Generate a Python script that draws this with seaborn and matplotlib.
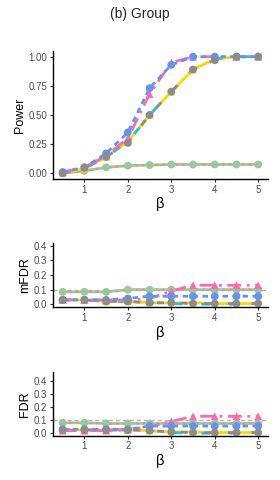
import numpy as np
import pandas as pd
import matplotlib
matplotlib.use("Agg")
import matplotlib.pyplot as plt
import seaborn as sns

# --- data ---
beta = [0.5, 1.0, 1.5, 2.0, 2.5, 3.0, 3.5, 4.0, 4.5, 5.0]

power = {
    "pink":   [0.01, 0.05, 0.15, 0.30, 0.68, 0.95, 1.00, 1.00, 1.00, 1.00],
    "blue":   [0.01, 0.05, 0.17, 0.35, 0.73, 0.93, 1.00, 1.00, 1.00, 1.00],
    "gold":   [0.00, 0.04, 0.14, 0.27, 0.50, 0.70, 0.89, 0.98, 1.00, 1.00],
    "cyan":   [0.00, 0.04, 0.14, 0.27, 0.50, 0.70, 0.89, 0.98, 1.00, 1.00],
    "gray":   [0.00, 0.05, 0.14, 0.26, 0.50, 0.70, 0.89, 0.97, 1.00, 1.00],
    "salmon": [0.00, 0.02, 0.05, 0.065, 0.07, 0.075, 0.075, 0.075, 0.075, 0.075],
    "green":  [0.00, 0.02, 0.05, 0.065, 0.07, 0.075, 0.075, 0.075, 0.075, 0.075],
}
mfdr = {
    "pink":   [0.03, 0.03, 0.03, 0.03, 0.04, 0.09, 0.13, 0.13, 0.13, 0.13],
    "blue":   [0.03, 0.03, 0.03, 0.04, 0.055, 0.055, 0.055, 0.055, 0.055, 0.055],
    "gold":   [0.03, 0.03, 0.02, 0.02, 0.01, 0.01, 0.01, 0.005, 0.005, 0.005],
    "cyan":   [0.03, 0.03, 0.02, 0.02, 0.01, 0.005, 0.0, 0.0, 0.0, 0.0],
    "gray":   [0.03, 0.03, 0.02, 0.02, 0.01, 0.01, 0.005, 0.005, 0.005, 0.005],
    "salmon": [0.085, 0.085, 0.085, 0.10, 0.10, 0.10, 0.10, 0.10, 0.10, 0.10],
    "green":  [0.085, 0.085, 0.085, 0.10, 0.10, 0.10, 0.10, 0.10, 0.10, 0.10],
}
fdr = {
    "pink":   [0.02, 0.02, 0.02, 0.03, 0.05, 0.09, 0.13, 0.13, 0.13, 0.13],
    "blue":   [0.03, 0.03, 0.03, 0.03, 0.055, 0.055, 0.055, 0.055, 0.055, 0.055],
    "gold":   [0.025, 0.025, 0.025, 0.025, 0.02, 0.01, 0.01, 0.005, 0.005, 0.005],
    "cyan":   [0.025, 0.025, 0.025, 0.025, 0.02, 0.005, 0.0, 0.0, 0.0, 0.0],
    "gray":   [0.025, 0.025, 0.025, 0.025, 0.02, 0.01, 0.005, 0.005, 0.005, 0.005],
    "salmon": [0.08, 0.08, 0.075, 0.075, 0.075, 0.075, 0.075, 0.075, 0.075, 0.075],
    "green":  [0.08, 0.08, 0.075, 0.075, 0.075, 0.075, 0.075, 0.075, 0.075, 0.075],
}

# --- styles ---
colors = {"pink": "#FF69B4", "blue": "#6495ED", "gold": "#FFD700", "cyan": "#1EC4F0",
          "gray": "#8C8C8C", "salmon": "#F4898C", "green": "#99C99A"}
dashes = {"pink": (5, 2, 1, 2), "blue": (2, 1.6), "gold": None, "cyan": (3, 7),
          "gray": (2.5, 6), "salmon": (1, 2), "green": None}
markers = {"pink": "^", "blue": "o", "gold": "^", "cyan": None, "gray": "o",
           "salmon": None, "green": "o"}
line_order = ["green", "salmon", "gold", "cyan", "gray", "pink", "blue"]
point_order = ["green", "gold", "pink", "blue", "gray"]

sns.set_theme(style="ticks")
plt.rcParams["font.family"] = ["Liberation Sans", "DejaVu Sans"]


def draw_panel(ax, data, ylabel, yticks, ylim, hline=False):
    if hline:
        ax.axhline(0.1, color="#B5B5B5", lw=1, ls=(0, (3, 2)), zorder=1)
    for key in line_order:
        lw = 2.0 if key != "salmon" else 1.6
        ls = "-" if dashes[key] is None else (0, dashes[key])
        sns.lineplot(x=beta, y=data[key], color=colors[key], lw=lw, linestyle=ls,
                     ax=ax, zorder=2)
    for key in point_order:
        sns.scatterplot(x=beta, y=data[key], color=colors[key], marker=markers[key],
                        s=32, edgecolor="none", ax=ax, zorder=3)
    ax.set_xlim(0.275, 5.225)
    ax.set_ylim(*ylim)
    ax.set_xticks([1, 2, 3, 4, 5])
    ax.set_yticks(yticks)
    ax.set_xlabel("β", fontsize=10.5, color="black", labelpad=2)
    ax.set_ylabel(ylabel, fontsize=9, color="black", labelpad=2)
    ax.tick_params(axis="both", labelsize=7, labelcolor="#4D4D4D", color="#333333",
                   length=2.5, width=0.8, pad=1.5)
    for side in ["top", "right"]:
        ax.spines[side].set_visible(False)
    for side in ["left", "bottom"]:
        ax.spines[side].set_color("black")
        ax.spines[side].set_linewidth(1.0)
    ax.grid(False)


fig = plt.figure(figsize=(2.8, 4.8), dpi=100)
fig.patch.set_facecolor("white")
fig.suptitle("(b) Group", fontsize=10, y=0.985)

ax1 = fig.add_axes([0.189, 0.627, 0.768, 0.267])
draw_panel(ax1, power, "Power", [0, 0.25, 0.5, 0.75, 1.0], (-0.05, 1.05))
ax1.set_yticklabels(["0.00", "0.25", "0.50", "0.75", "1.00"])

ax2 = fig.add_axes([0.189, 0.360, 0.768, 0.134])
draw_panel(ax2, mfdr, "mFDR", [0, 0.1, 0.2, 0.3, 0.4], (-0.02, 0.42), hline=True)

ax3 = fig.add_axes([0.189, 0.092, 0.768, 0.133])
draw_panel(ax3, fdr, "FDR", [0, 0.1, 0.2, 0.3, 0.4], (-0.02, 0.47), hline=True)

fig.savefig("out.png", dpi=100)
